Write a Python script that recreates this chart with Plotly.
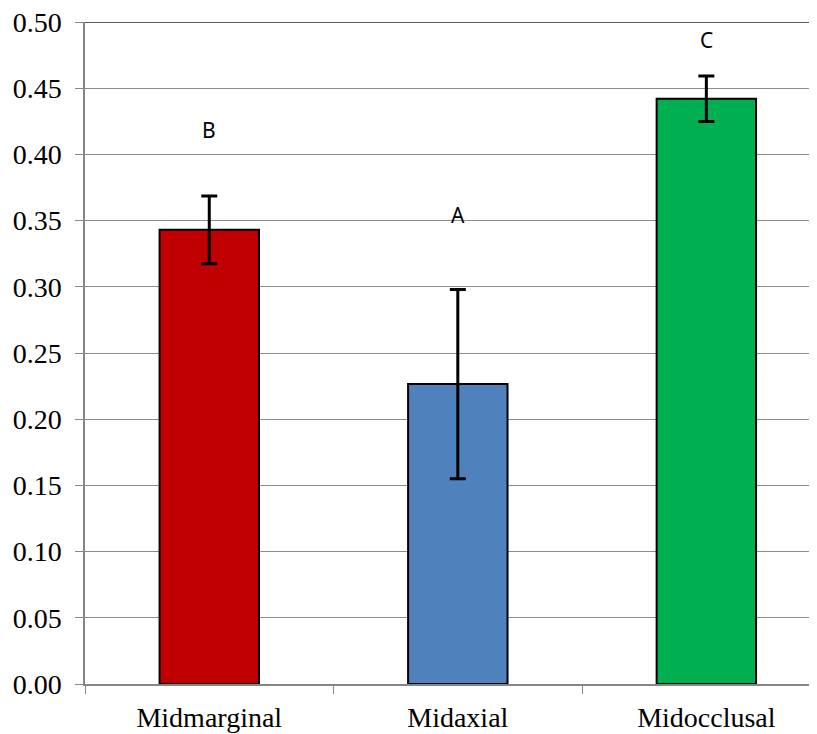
import plotly.graph_objects as go

categories = ["Midmarginal", "Midaxial", "Midocclusal"]
means = [0.343, 0.2265, 0.442]
errors = [0.0255, 0.0715, 0.0172]
colors = ["#C00000", "#4F81BD", "#00B050"]
letters = ["B", "A", "C"]
letter_y = [0.4186, 0.3544, 0.4866]
y_ticks = [0.0, 0.05, 0.10, 0.15, 0.20, 0.25, 0.30, 0.35, 0.40, 0.45, 0.50]

fig = go.Figure()
fig.add_trace(go.Bar(
    x=categories, y=means,
    marker=dict(color=colors, line=dict(color="black", width=2)),
    width=0.4,
    error_y=dict(type="data", array=errors, visible=True, color="black",
                 thickness=3, width=8),
    showlegend=False,
))

for c, l, yy in zip(categories, letters, letter_y):
    fig.add_annotation(x=c, y=yy, text=l, showarrow=False,
                       font=dict(family="Noto Sans", size=21, color="black"))

fig.add_shape(type="line", xref="paper", yref="y", x0=0, x1=1, y0=0.5, y1=0.5,
              line=dict(color="#222222", width=1.5))

fig.update_layout(
    width=801, height=726,
    margin=dict(l=77, r=0, t=14, b=50),
    plot_bgcolor="white", paper_bgcolor="white",
    xaxis=dict(
        range=[-0.5, 2.413], automargin=False,
        tickson="boundaries", ticks="outside", ticklen=8, tickcolor="#868686",
        showline=True, linecolor="#868686", linewidth=1.5,
        showgrid=False, ticklabelstandoff=8,
        tickfont=dict(family="Liberation Serif", size=28, color="black"),
    ),
    yaxis=dict(
        range=[0, 0.5], tickvals=y_ticks, tickformat=".2f", automargin=False,
        ticks="outside", ticklen=8, tickcolor="#868686",
        showline=True, linecolor="#868686", linewidth=1.5,
        showgrid=True, gridcolor="#8c8c8c", gridwidth=1,
        zeroline=False, ticklabelstandoff=8, ticklabeloverflow="allow",
        tickfont=dict(family="Liberation Serif", size=28, color="black"),
    ),
)

fig.write_html("out.html")
